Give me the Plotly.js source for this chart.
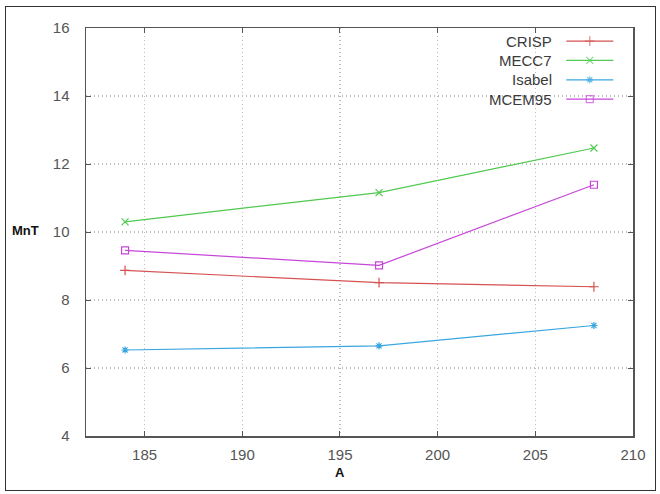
<!DOCTYPE html>
<html>
<head>
<meta charset="utf-8">
<script src="https://cdn.plot.ly/plotly-3.0.1.min.js"></script>
<style>
  html, body { margin: 0; padding: 0; background: #fff; }
  #wrap { position: relative; width: 660px; height: 494px; }
  #chart { width: 660px; height: 494px; }
  #frame { position: absolute; left: 5px; top: 6px; width: 649px; height: 483px;
           border: 1.5px solid #333; pointer-events: none; }
</style>
</head>
<body>
<div id="wrap"><div id="chart"></div><div id="frame"></div></div>
<script>
// ---- data ----
const xValues = [184, 197, 208];
const seriesNames = ["CRISP", "MECC7", "Isabel", "MCEM95"];
const crisp  = [8.87, 8.51, 8.39];
const mecc7  = [10.30, 11.16, 12.47];
const isabel = [6.53, 6.65, 7.25];
const mcem95 = [9.46, 9.02, 11.39];
const xTicks = [185, 190, 195, 200, 205, 210];
const yTicks = [4, 6, 8, 10, 12, 14, 16];
const xTitle = "A";
const yTitle = "MnT";

// ---- styles ----
const seriesValues = [crisp, mecc7, isabel, mcem95];
const colors = ["#d65252", "#4fc94f", "#3aa6e0", "#c746d9"];
const symbols = ["cross-thin-open", "x-thin-open", "asterisk-open", "square-open"];
const sizes = [7, 7, 6, 7];
const FONT = "Liberation Sans, Arial, sans-serif";

const traces = [];
seriesNames.forEach((name, i) => {
  traces.push({
    x: xValues, y: seriesValues[i], name: name, type: "scatter",
    mode: "lines+markers", showlegend: false,
    line: {color: colors[i], width: 1.2},
    marker: {symbol: symbols[i], size: sizes[i], color: colors[i],
             line: {color: colors[i], width: 1.2}}
  });
});

// custom legend (text left, sample right), on an overlay axis in [0,1]
const legTop = 0.968, legStep = 0.0475;
const legX0 = 0.878, legX1 = 0.964;
const annotations = [];
seriesNames.forEach((name, i) => {
  const yy = legTop - i * legStep;
  traces.push({
    x: [legX0, (legX0 + legX1) / 2, legX1], y: [yy, yy, yy],
    xaxis: "x2", yaxis: "y2", type: "scatter", mode: "lines+markers",
    showlegend: false, hoverinfo: "skip",
    line: {color: colors[i], width: 1.2},
    marker: {symbol: symbols[i], size: [0, sizes[i], 0], color: colors[i],
             line: {color: colors[i], width: 1.2}}
  });
  annotations.push({
    xref: "paper", yref: "paper", x: 0.856, y: yy, xanchor: "right", yanchor: "middle",
    text: name, showarrow: false,
    font: {family: FONT, size: 15, color: "#3a3a3a"}
  });
});
annotations.push({
  xref: "paper", yref: "paper", x: -0.139, y: 0.503, xanchor: "left", yanchor: "middle",
  text: "<b>" + yTitle + "</b>", showarrow: false,
  font: {family: FONT, size: 13, color: "#111"}
});
annotations.push({
  xref: "paper", yref: "paper", x: 0.464, y: -0.09, xanchor: "center", yanchor: "middle",
  text: "<b>" + xTitle + "</b>", showarrow: false,
  font: {family: FONT, size: 13, color: "#111"}
});

const axisCommon = {
  showline: true, linecolor: "#555", linewidth: 1.5, mirror: "ticks",
  ticks: "inside", ticklen: 5, tickcolor: "#555", tickwidth: 1,
  showgrid: true, gridcolor: "#bdbdbd", griddash: "1px,3px", gridwidth: 1.2,
  zeroline: false,
  tickfont: {family: FONT, size: 15, color: "#555"}
};

const layout = {
  width: 660, height: 494,
  margin: {l: 86, r: 27, t: 28, b: 58},
  paper_bgcolor: "#fff", plot_bgcolor: "#fff",
  xaxis: Object.assign({}, axisCommon, {
    range: [182, 210], tickvals: xTicks, ticktext: xTicks.map(String),
    ticklabelstandoff: 4
  }),
  yaxis: Object.assign({}, axisCommon, {
    range: [4, 16], tickvals: yTicks, ticktext: yTicks.map(String),
    ticklabelstandoff: 12
  }),
  xaxis2: {overlaying: "x", range: [0, 1], visible: false, fixedrange: true},
  yaxis2: {overlaying: "y", range: [0, 1], visible: false, fixedrange: true},
  annotations: annotations,
  showlegend: false
};

Plotly.newPlot("chart", traces, layout, {staticPlot: true, displayModeBar: false});
</script>
</body>
</html>
